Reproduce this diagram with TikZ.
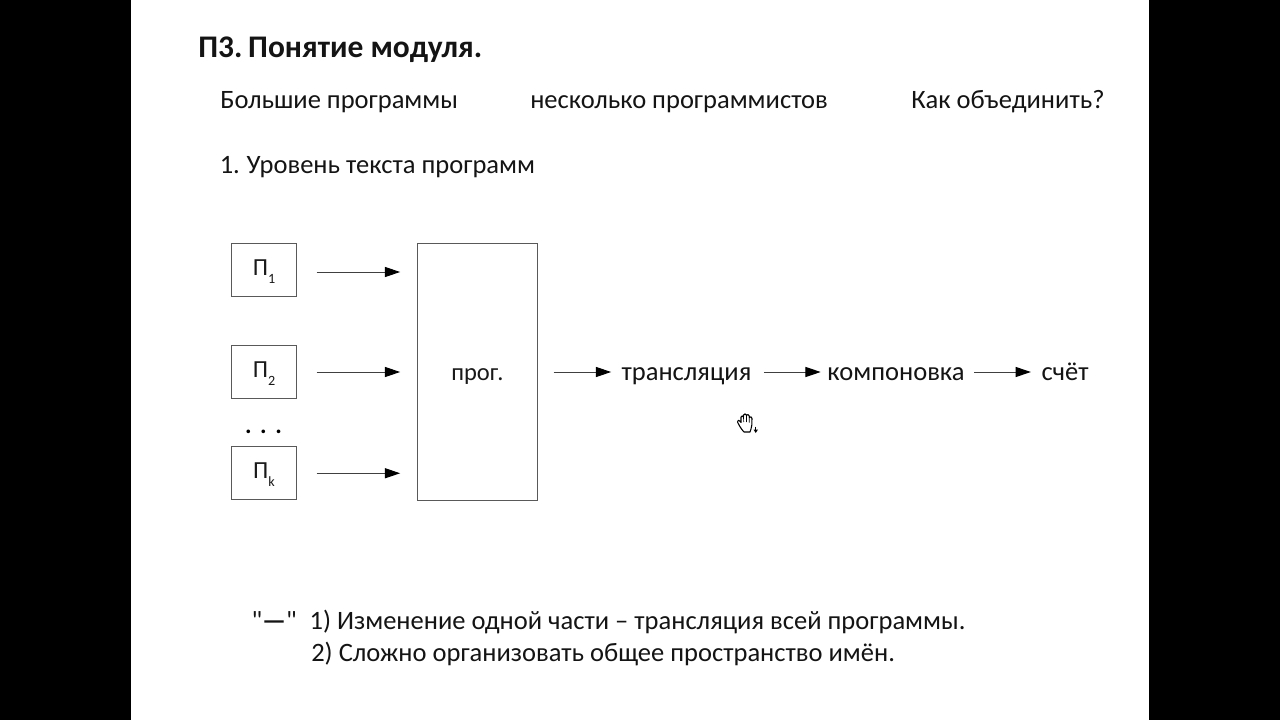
\documentclass[tikz,border=0pt]{standalone}
\usepackage{fontspec}
\setmainfont{Carlito}
\newfontfamily\qfont{Carlito}
\usetikzlibrary{arrows.meta}
\tikzset{
  txt/.style={inner sep=0pt,anchor=base west,text=black!92,font=\fontsize{19.9}{24}\selectfont},
  ttl/.style={txt,font=\fontsize{23.6}{28}\bfseries\selectfont},
  box/.style={draw=black!65,line width=0.75pt,fill=white,inner sep=0pt,anchor=center,text=black!90,
    font=\fontsize{18.4}{22}\selectfont,text height=7.5pt,text depth=0pt},
  pbox/.style={box,minimum width=48.75pt,minimum height=40pt},
  flow/.style={inner sep=0pt,anchor=center,text=black!92,font=\fontsize{19.9}{24}\selectfont,text height=12.75pt,text depth=0pt},
  arr/.style={draw=black!75,line width=0.75pt,-{Triangle[black,length=11.5pt,width=7.5pt]}},
  inarr/.style={arr,shorten <=14.8pt,shorten >=12.4pt},
}
\newcommand{\subsc}[1]{{\fontsize{10.6}{11}\selectfont\raisebox{-6pt}{#1}}}
\begin{document}
\begin{tikzpicture}[x=0.75pt,y=-0.75pt]
\useasboundingbox (0,0) rectangle (1280,720);
\fill[black] (0,0) rectangle (1280,720);
\fill[white] (131,0) rectangle (1149,720);
\node[ttl] (title) at (198,58) {П3.\kern-1pt\ Понятие модуля.};
\node[txt] (t1) at (220,109) {Большие программы};
\node[txt] (t2) at (530,109) {несколько программистов};
\node[txt] (t3) at (911,109) {Как объединить?};
\node[txt] (t4) at (219.5,174) {1.\kern0.5pt\ Уровень текста программ};
\node[pbox] (p1) at (264,270) {П\subsc{1}};
\node[pbox] (p2) at (264,372) {П\subsc{2}};
\node[pbox] (pk) at (264,473.25) {П\subsc{k}};
\node[inner sep=0pt,anchor=base,text=black,font=\fontsize{18.4}{22}\bfseries\selectfont] (dots) at (263.5,433.5) {.\hspace{6.4pt}.\hspace{6.4pt}.};
\node[box,minimum width=90.2pt,minimum height=192.75pt,text height=13.5pt] (prog) at (477.4,371.75) {прог.};
\node[flow] (tr) at (686.5,372) {трансляция};
\node[flow] (ko) at (896,372) {компоновка};
\node[flow] (sc) at (1065,372) {счёт};
\draw[inarr] ([yshift=-1.5pt]p1.east) -- ([yshift=-1.5pt]p1.east -| prog.west);
\draw[inarr] (p2.east) -- (p2.east -| prog.west);
\draw[inarr] (pk.east) -- (pk.east -| prog.west);
\draw[arr,shorten <=11.7pt,shorten >=7.6pt] (prog.east |- tr.west) -- (tr.west);
\draw[arr,shorten <=9.2pt,shorten >=4.8pt] (tr.east) -- (ko.west);
\draw[arr,shorten <=7pt,shorten >=7.7pt] (ko.east) -- (sc.west);
\node[txt] (minus) at (251.3,629.5) {{\qfont"}\textbf{—}{\qfont"}};
\node[txt] (b1) at (309.3,629.5) {1) Изменение одной части – трансляция всей программы.};
\node[txt] (b2) at (311,661.5) {2) Сложно организовать общее пространство имён.};
% hand cursor
\draw[black,fill=white,line width=0.8pt,line join=round]
  (744,432) .. controls (741,429) and (739,425) .. (737.5,422)
  .. controls (737,420) and (739,419.5) .. (741,422.5)
  -- (741,417) .. controls (741.2,415.5) and (743,415.5) .. (743.4,417)
  -- (743.6,415) .. controls (744,413.5) and (746,413.5) .. (746.3,415)
  -- (746.5,415.4) .. controls (747,414) and (749,414.2) .. (749.2,416)
  -- (749.4,417.5) .. controls (750,416.2) and (752,416.6) .. (752,418.5)
  -- (751.8,425) .. controls (751.6,428) and (750.5,430) .. (750,432) -- cycle;
\draw[black,line width=0.5pt] (743.5,417) -- (743.7,422) (746.4,415.5) -- (746.5,422) (749.3,417) -- (749.3,422.5);
\fill[black] (753.5,429.5) -- (758,429.5) -- (755.75,433) -- cycle;
\draw[black,line width=0.6pt] (755.75,426.5) -- (755.75,430);
\end{tikzpicture}
\end{document}
